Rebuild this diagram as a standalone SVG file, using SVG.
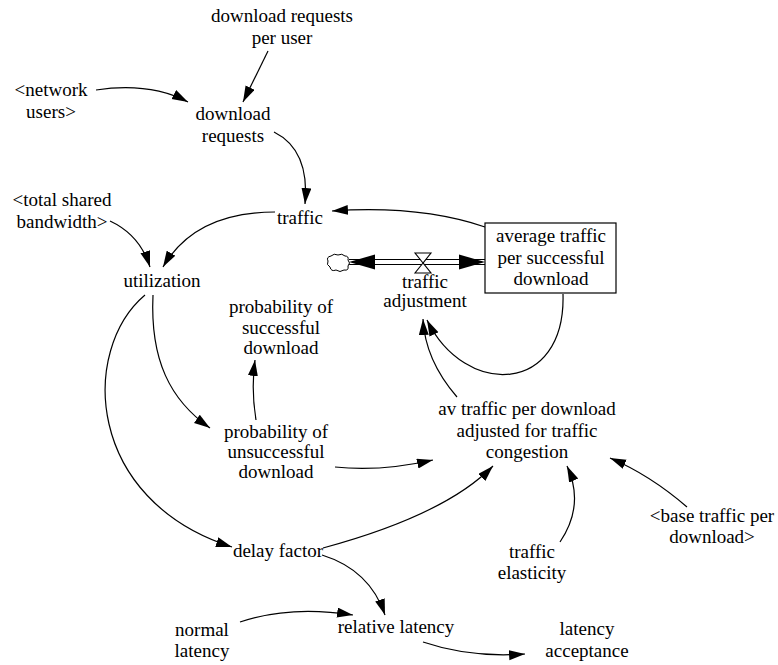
<svg xmlns="http://www.w3.org/2000/svg" width="778" height="665" viewBox="0 0 778 665">
<style>
text{font-family:"Liberation Serif","Times New Roman",serif;font-size:19px;fill:#000;text-anchor:middle}
.c{fill:none;stroke:#000;stroke-width:1.2}
.p{fill:none;stroke:#000;stroke-width:1.2}
</style>
<defs>
<marker id="ah" markerUnits="userSpaceOnUse" markerWidth="17" markerHeight="11" refX="16" refY="5" orient="auto">
<path d="M0,0 L16,5 L0,10 z" fill="#000"/>
</marker>
</defs>
<rect width="778" height="665" fill="#fff"/>
<g id="connectors">
<path class="c" marker-end="url(#ah)" d="M268,51 L243,102"/>
<path class="c" marker-end="url(#ah)" d="M96,90 Q150,82 188,102"/>
<path class="c" marker-end="url(#ah)" d="M274,132 Q310,150 305,204"/>
<path class="c" marker-end="url(#ah)" d="M485,227 Q420,205 332,211"/>
<path class="c" marker-end="url(#ah)" d="M110,221 Q140,235 150,267"/>
<path class="c" marker-end="url(#ah)" d="M275,212 Q195,212 163,267"/>
<path class="c" marker-end="url(#ah)" d="M145,295 C80,350 85,500 232,547"/>
<path class="c" marker-end="url(#ah)" d="M153,295 C150,360 170,400 210,428"/>
<path class="c" marker-end="url(#ah)" d="M256,420 Q251,390 255,360"/>
<path class="c" marker-end="url(#ah)" d="M335,467 Q380,472 433,460"/>
<path class="c" marker-end="url(#ah)" d="M323,548 Q445,515 493,466"/>
<path class="c" marker-end="url(#ah)" d="M322,555 Q370,570 385,615"/>
<path class="c" marker-end="url(#ah)" d="M240,622 Q290,605 353,615"/>
<path class="c" marker-end="url(#ah)" d="M423,642 Q470,658 525,654"/>
<path class="c" marker-end="url(#ah)" d="M560,542 Q585,505 567,466"/>
<path class="c" marker-end="url(#ah)" d="M687,507 Q650,475 610,458"/>
<path class="c" marker-end="url(#ah)" d="M457,397 Q425,360 423,319"/>
<path class="c" marker-end="url(#ah)" d="M563,294 C566,395 465,398 427,320"/>
</g>
<g id="flow-traffic-adjustment">
<line class="p" x1="349" y1="259.5" x2="485" y2="259.5"/>
<line class="p" x1="349" y1="264.5" x2="485" y2="264.5"/>
<polygon points="349,262 375,254.5 375,269.5" fill="#000"/>
<polygon points="485,262 459,254.5 459,269.5" fill="#000"/>
<path d="M423,263 L415,253 L431,253 Z M423,263 L415,273 L431,273 Z" fill="#fff" stroke="#000" stroke-width="1.1"/>
<text x="425" y="288">traffic</text>
<text x="425" y="307">adjustment</text>
</g>
<g id="cloud">
<path d="M331,256 Q334,253 338,255 Q342,253 345,256 Q349,256 348,260 Q351,263 348,266 Q349,271 344,270 Q340,273 336,270 Q331,272 330,267 Q326,265 328,261 Q326,257 331,256 Z" fill="#fff" stroke="#000" stroke-width="1"/>
</g>
<g id="stock-average-traffic">
<rect x="485" y="223" width="131" height="70" fill="#fff" stroke="#000" stroke-width="1.2"/>
<text x="551" y="242">average traffic</text>
<text x="551" y="263.5">per successful</text>
<text x="551" y="285">download</text>
</g>
<g id="download-requests-per-user"><text x="282" y="22">download requests</text><text x="282" y="44">per user</text></g>
<g id="network-users"><text x="51" y="96">&lt;network</text><text x="51" y="118">users&gt;</text></g>
<g id="download-requests"><text x="233" y="120">download</text><text x="233" y="142">requests</text></g>
<g id="total-shared-bandwidth"><text x="62" y="206">&lt;total shared</text><text x="62" y="228">bandwidth&gt;</text></g>
<g id="traffic"><text x="300" y="224">traffic</text></g>
<g id="utilization"><text x="162" y="287">utilization</text></g>
<g id="prob-successful"><text x="281" y="313">probability of</text><text x="281" y="333.5">successful</text><text x="281" y="354">download</text></g>
<g id="prob-unsuccessful"><text x="276" y="438">probability of</text><text x="276" y="458">unsuccessful</text><text x="276" y="478">download</text></g>
<g id="av-traffic-adjusted"><text x="527" y="415">av traffic per download</text><text x="527" y="436.5">adjusted for traffic</text><text x="527" y="458">congestion</text></g>
<g id="base-traffic"><text x="712" y="522">&lt;base traffic per</text><text x="712" y="543">download&gt;</text></g>
<g id="delay-factor"><text x="278" y="557">delay factor</text></g>
<g id="traffic-elasticity"><text x="532" y="558">traffic</text><text x="532" y="579">elasticity</text></g>
<g id="normal-latency"><text x="202" y="636">normal</text><text x="202" y="657">latency</text></g>
<g id="relative-latency"><text x="396" y="633">relative latency</text></g>
<g id="latency-acceptance"><text x="587" y="635">latency</text><text x="587" y="657">acceptance</text></g>
</svg>
